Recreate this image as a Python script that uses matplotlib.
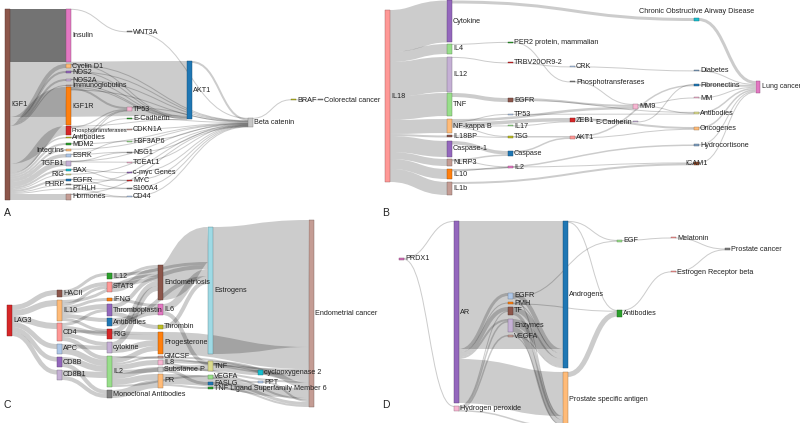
import matplotlib
matplotlib.use("Agg")
import matplotlib.pyplot as plt
from matplotlib.path import Path
from matplotlib.patches import PathPatch, Rectangle
import matplotlib.colors as mcolors

DPI = 100
NODE_W = 4.5
FONT = ["Liberation Sans", "DejaVu Sans"]
FS = 5.2

# ---------- Panel A ----------
A_nodes = ["IGF1", "Insulin", "Cyclin D1", "NOS2", "NOS2A", "Immunoglobulins", "IGF1R",
           "Phosphotransferases", "Antibodies", "MDM2", "Integrins", "ESRK", "TGFB1", "BAX",
           "RIG", "EGFR", "PHRP", "PTHLH", "Hormones",
           "WNT3A", "TP53", "E-Cadherin", "CDKN1A", "H3F3AP6", "NSG1", "TCEAL1", "c-myc Genes",
           "MYC", "S100A4", "CD44", "AKT1", "Beta catenin", "BRAF", "Colorectal cancer"]
A_colors = ["#8c564b", "#e377c2", "#ffbb78", "#9467bd", "#c5b0d5", "#c49c94", "#ff7f0e",
            "#d62728", "#bcbd22", "#2ca02c", "#ffbb78", "#aec7e8", "#c5b0d5", "#17becf",
            "#dbdb8d", "#1f77b4", "#7f7f7f", "#c7c7c7", "#c49c94",
            "#7f7f7f", "#f7b6d2", "#2ca02c", "#c49c94", "#98df8a", "#7f7f7f", "#f7b6d2", "#9467bd",
            "#d62728", "#7f7f7f", "#aec7e8", "#1f77b4", "#c7c7c7", "#bcbd22", "#7f7f7f"]
A_src = ["IGF1"] * 19 + [
    "Insulin", "Cyclin D1", "Cyclin D1", "NOS2", "NOS2", "NOS2A", "NOS2A", "Immunoglobulins",
    "IGF1R", "IGF1R", "IGF1R", "Phosphotransferases", "Phosphotransferases", "Phosphotransferases",
    "Antibodies", "Antibodies", "MDM2", "MDM2", "Integrins", "ESRK", "ESRK", "TGFB1", "TGFB1", "TGFB1",
    "BAX", "BAX", "RIG", "EGFR", "EGFR", "PHRP", "PTHLH", "PTHLH", "Hormones", "Hormones",
    "WNT3A", "TP53", "TP53", "E-Cadherin", "CDKN1A", "H3F3AP6", "NSG1", "TCEAL1", "c-myc Genes",
    "MYC", "S100A4", "CD44", "AKT1", "Beta catenin", "BRAF"]
A_tgt = ["Insulin", "AKT1", "Cyclin D1", "NOS2", "NOS2A", "Immunoglobulins", "IGF1R",
         "Phosphotransferases", "Antibodies", "MDM2", "Integrins", "ESRK", "TGFB1", "BAX",
         "RIG", "EGFR", "PHRP", "PTHLH", "Hormones"] + [
    "WNT3A", "AKT1", "Beta catenin", "AKT1", "Beta catenin", "AKT1", "Beta catenin", "AKT1",
    "TP53", "AKT1", "Beta catenin", "TP53", "CDKN1A", "AKT1",
    "TP53", "E-Cadherin", "TP53", "Beta catenin", "Beta catenin", "H3F3AP6", "NSG1", "TCEAL1", "NSG1", "Beta catenin",
    "c-myc Genes", "MYC", "Beta catenin", "MYC", "S100A4", "Beta catenin", "S100A4", "CD44", "CD44", "Beta catenin",
    "Beta catenin", "Beta catenin", "AKT1", "Beta catenin", "Beta catenin", "Beta catenin", "Beta catenin",
    "Beta catenin", "Beta catenin", "Beta catenin", "Beta catenin", "Beta catenin", "Beta catenin", "BRAF",
    "Colorectal cancer"]
A_val = [53, 55, 4, 2, 2, 1, 38, 9, 1.5, 2, 2, 3.5, 5, 2, 1, 2, 1, 1, 6] + [
    0.6, 0.6, 0.3, 0.4, 0.3, 0.4, 0.3, 0.4,
    2, 0.8, 0.3, 1.2, 0.4, 0.4,
    0.5, 0.4, 0.8, 0.3, 0.3, 0.4, 0.4, 0.4, 0.4, 0.3,
    0.4, 0.4, 0.3, 0.4, 0.4, 0.3, 0.4, 0.4, 0.4, 0.3,
    0.6, 0.8, 0.5, 0.3, 0.3, 0.3, 0.3,
    0.3, 0.3, 0.3, 0.3, 0.3, 2, 0.6,
    0.6]

# ---------- Panel B ----------
B_nodes = ["IL18", "Cytokine", "IL4", "IL12", "TNF", "NF-kappa B", "IL18BP", "Caspase-1", "NLRP3",
           "IL10", "IL1b", "PER2 protein, mammalian", "TRBV20OR9-2", "EGFR", "TP53", "IL17", "TSG",
           "Caspase", "IL2", "CRK", "Phosphotransferases", "ZEB1", "AKT1", "MM9", "E-Cadherin",
           "Chronic Obstructive Airway Disease", "Diabetes", "Fibronectins", "MM", "Antibodies",
           "Oncogenes", "Hydrocortisone", "ICAM1", "Lung cancer"]
B_colors = ["#ff9896", "#9467bd", "#98df8a", "#c5b0d5", "#98df8a", "#ffbb78", "#8c564b", "#9467bd",
            "#c49c94", "#ff7f0e", "#c49c94", "#2ca02c", "#d62728", "#8c564b", "#aec7e8", "#98df8a",
            "#bcbd22", "#1f77b4", "#e377c2", "#aec7e8", "#7f7f7f", "#d62728", "#ff9896", "#f7b6d2",
            "#c5b0d5", "#17becf", "#7f9fbf", "#1f77b4", "#f7b6d2", "#dbdb8d", "#ffbb78", "#7f9fbf",
            "#a0522d", "#e377c2"]
B_src = ["IL18"] * 10 + [
    "Cytokine", "IL4", "IL12", "TNF", "NF-kappa B", "NF-kappa B", "NF-kappa B", "NF-kappa B",
    "NF-kappa B", "IL18BP", "Caspase-1", "NLRP3", "NLRP3", "IL10", "IL10", "IL1b",
    "PER2 protein, mammalian", "TRBV20OR9-2", "EGFR", "EGFR", "TP53", "IL17", "TSG", "Caspase", "IL2",
    "CRK", "Phosphotransferases", "ZEB1", "ZEB1", "AKT1", "AKT1", "MM9", "MM9", "E-Cadherin",
    "Chronic Obstructive Airway Disease", "Diabetes", "Fibronectins", "MM", "Antibodies",
    "Oncogenes", "Hydrocortisone", "ICAM1"]
B_tgt = ["Cytokine", "IL4", "IL12", "TNF", "NF-kappa B", "IL18BP", "Caspase-1", "NLRP3", "IL10", "IL1b"] + [
    "Chronic Obstructive Airway Disease", "PER2 protein, mammalian", "TRBV20OR9-2", "EGFR", "TP53",
    "IL17", "TSG", "MM9", "ZEB1", "TSG", "Caspase", "Caspase", "IL2", "IL2", "Hydrocortisone", "ICAM1",
    "Phosphotransferases", "CRK", "MM9", "Antibodies", "Antibodies", "ZEB1", "AKT1", "AKT1", "ICAM1",
    "Diabetes", "MM9", "E-Cadherin", "Oncogenes", "Fibronectins", "Oncogenes", "MM", "Antibodies",
    "Fibronectins"] + ["Lung cancer"] * 8
B_val = [42, 10, 35, 23, 14, 2, 16, 7, 10, 13] + [
    3, 0.8, 0.8, 4, 0.8, 0.8, 1, 2.5, 3.5, 0.8, 3.5, 1.5, 0.6, 0.8, 1.5, 2,
    0.8, 0.8, 2, 0.8, 0.6, 0.8, 1.5, 1.5, 0.8,
    0.8, 0.8, 0.8, 2, 1.5, 0.6, 1, 1, 0.8,
    3, 0.8, 2, 1, 1.5, 1.5, 0.8, 1]

# ---------- Panel C ----------
C_nodes = ["LAG3", "HACII", "IL10", "CD4", "APC", "CD8B", "CD8B1",
           "IL12", "STAT3", "IFNG", "Thromboplastin", "Antibodies", "RIG", "cytokine", "IL2",
           "Monoclonal Antibodies", "Endometriosis", "IL6", "Thrombin", "Progesterone", "GMCSF",
           "IL8", "Substance P", "PR", "Estrogens", "TNF", "VEGFA", "FASLG",
           "TNF Ligand Superfamily Member 6", "cyclooxygenase 2", "PPT", "Endometrial cancer"]
C_colors = ["#d62728", "#8c564b", "#ffbb78", "#ff9896", "#aec7e8", "#9467bd", "#c5b0d5",
            "#2ca02c", "#ff9896", "#ff7f0e", "#9467bd", "#1f77b4", "#d62728", "#c5b0d5", "#98df8a",
            "#7f7f7f", "#8c564b", "#e377c2", "#bcbd22", "#ff7f0e", "#c49c94",
            "#f7b6d2", "#c7c7c7", "#ffbb78", "#9edae5", "#dbdb8d", "#98df8a", "#1f77b4",
            "#2ca02c", "#17becf", "#aec7e8", "#c49c94"]
C_src = ["LAG3"] * 6 + [
    "HACII", "HACII", "IL10", "IL10", "IL10", "IL10", "IL10", "IL10",
    "CD4", "CD4", "CD4", "CD4", "CD4", "APC", "APC", "CD8B", "CD8B", "CD8B1", "CD8B1",
    "IL12", "IL12", "STAT3", "STAT3", "IFNG", "Thromboplastin", "Thromboplastin", "Thromboplastin",
    "Antibodies", "Antibodies", "RIG", "RIG", "cytokine", "cytokine",
    "IL2", "IL2", "IL2", "IL2", "IL2", "IL2", "IL2", "IL2", "Monoclonal Antibodies",
    "Endometriosis", "IL6", "IL6", "Thrombin", "Progesterone", "GMCSF", "IL8", "IL8",
    "Substance P", "Substance P", "PR", "PR", "Estrogens", "TNF", "TNF", "VEGFA", "VEGFA",
    "FASLG", "TNF Ligand Superfamily Member 6", "cyclooxygenase 2", "PPT"]
C_tgt = ["HACII", "IL10", "CD4", "APC", "CD8B", "CD8B1"] + [
    "IL12", "STAT3", "STAT3", "IFNG", "Thromboplastin", "Antibodies", "RIG", "Endometriosis",
    "Thromboplastin", "RIG", "cytokine", "IL2", "Progesterone", "cytokine", "IL2", "IL2",
    "Monoclonal Antibodies", "IL2", "Monoclonal Antibodies",
    "Endometriosis", "Estrogens", "Endometriosis", "Estrogens", "IL6", "Endometriosis", "Thrombin", "IL6",
    "IL6", "Estrogens", "Endometriosis", "Progesterone", "Endometriosis", "Progesterone",
    "Progesterone", "GMCSF", "IL8", "Substance P", "TNF", "PR", "VEGFA", "Endometrial cancer", "PR",
    "Estrogens", "Estrogens", "TNF", "Estrogens", "Endometrial cancer", "Endometrial cancer", "TNF",
    "Endometrial cancer", "FASLG", "Endometrial cancer", "Endometrial cancer",
    "TNF Ligand Superfamily Member 6", "Endometrial cancer", "cyclooxygenase 2", "Endometrial cancer",
    "PPT", "Endometrial cancer", "Endometrial cancer", "Endometrial cancer", "Endometrial cancer",
    "Endometrial cancer"]
C_val = [5, 6, 6, 5, 4.5, 4.5] + [
    3, 4, 3, 3, 5, 4, 3, 3,
    3, 4, 4, 4, 3, 4, 6, 6, 4, 6, 4,
    3, 3, 6, 4, 3, 4, 4, 4,
    4, 4, 5, 5, 5, 6,
    5, 2, 5, 5, 4, 6, 2, 2, 8,
    35, 7, 4, 4, 22, 2, 2, 3,
    3, 2, 10, 2, 127, 5, 5, 2, 2,
    3, 2, 5, 2]

# ---------- Panel D ----------
D_nodes = ["PRDX1", "AR", "Hydrogen peroxide", "EGFR", "PMH", "TF", "Enzymes", "VEGFA",
           "Androgens", "Prostate specific antigen", "EGF", "Antibodies", "Melatonin",
           "Estrogen Receptor beta", "Prostate cancer"]
D_colors = ["#d36fb8", "#9467bd", "#f7b6d2", "#aec7e8", "#ff7f0e", "#8c564b", "#c5b0d5", "#c49c94",
            "#1f77b4", "#ffbb78", "#98df8a", "#2ca02c", "#ff9896", "#ff9896", "#7f7f7f"]
D_src = ["PRDX1", "PRDX1", "AR", "AR", "AR", "AR", "AR", "AR",
         "Hydrogen peroxide", "Hydrogen peroxide", "Hydrogen peroxide", "Hydrogen peroxide",
         "EGFR", "EGFR", "EGFR", "PMH", "PMH", "TF", "TF", "Enzymes", "Enzymes", "VEGFA", "VEGFA",
         "Androgens", "Androgens", "Prostate specific antigen", "EGF", "Antibodies", "Melatonin",
         "Estrogen Receptor beta"]
D_tgt = ["AR", "Hydrogen peroxide", "Androgens", "EGFR", "PMH", "TF", "Enzymes", "Prostate specific antigen",
         "TF", "Enzymes", "VEGFA", "Prostate specific antigen",
         "EGF", "Androgens", "Prostate specific antigen", "Androgens", "Antibodies", "Androgens",
         "Prostate specific antigen", "Androgens", "Prostate specific antigen", "Androgens",
         "Prostate specific antigen", "EGF", "Antibodies", "Antibodies", "Melatonin",
         "Estrogen Receptor beta", "Prostate cancer", "Prostate cancer"]
D_val = [0.8, 0.8, 128, 3, 1, 4, 2, 44,
         1, 1.5, 1.5, 1.5,
         0.8, 4, 1, 1, 0.8, 5, 3, 8, 5, 1, 1,
         0.8, 0.8, 5, 1, 0.8, 1, 0.8]

# ---------- layout (pixel positions of node columns / tops) ----------
A_layout = {
    "x": [5, 66, 66, 66, 66, 66, 66, 66, 66, 66, 66, 66, 66, 66, 66, 66, 66, 66, 66,
          127, 127, 127, 127, 127, 127, 127, 127, 127, 127, 127, 187, 248, 291, 318],
    "y": [9, 9, 64, 71, 79, 85, 87, 126, 137, 143, 149, 154, 161, 169, 174, 179, 184.5, 188.5, 194,
          31.5, 107, 118.5, 129, 141, 152, 162, 172.5, 180, 188, 196.5, 61, 118, 99.5, 99.5],
    "side": {"Integrins": "l", "TGFB1": "l", "RIG": "l", "PHRP": "l"},
    "small": {"Phosphotransferases": 4.2},
    "dark": {("IGF1", "Insulin"): 0.55},
}
B_layout = {
    "x": [385] + [447] * 10 + [508] * 8 + [570] * 4 + [633] * 2 + [694] * 8 + [755.5],
    "y": [10, 0.5, 44, 57, 93, 119, 135.5, 141, 159, 169, 182,
          42, 62.5, 98, 114, 125.5, 136, 151, 166.5,
          66.5, 81.5, 118, 136, 104, 121.5,
          18, 70.5, 84, 97.5, 112, 127, 144.5, 162.5, 81],
    "side": {"E-Cadherin": "l", "Chronic Obstructive Airway Disease": "top", "ICAM1": "c"},
    "small": {"Lung cancer": 5.0},
    "dark": {},
}
C_layout = {
    "x": [7] + [57] * 6 + [107] * 9 + [158] * 8 + [208] * 5 + [258] * 2 + [309],
    "y": [305, 290, 300, 323, 344, 357, 370,
          273, 282, 298, 304, 318, 329, 342, 356, 390,
          265, 304, 325, 332, 356, 360, 367, 374,
          227, 361, 375, 382, 387, 370, 381, 220],
    "side": {},
    "small": {},
    "dark": {},
}
D_layout = {
    "x": [399, 454, 454, 508, 508, 508, 508, 508, 563, 563, 617, 617, 671, 671, 725],
    "y": [258, 221, 406, 293, 302.5, 307, 319, 335, 221, 372, 240, 310, 237.5, 271.5, 248.5],
    "side": {},
    "small": {},
    "dark": {},
}


def draw_sankey(ax, names, colors, src, tgt, val, layout):
    xs, ys = layout["x"], layout["y"]
    idx = {nm: i for i, nm in enumerate(names)}
    s = [idx[a] for a in src]
    t = [idx[b] for b in tgt]
    n, L = len(names), len(val)
    vin = [0.0] * n
    vout = [0.0] * n
    for a, b, v in zip(s, t, val):
        vout[a] += v
        vin[b] += v
    h = [max(vin[i], vout[i]) for i in range(n)]

    # stack links on each node, ordered by the position of the other end
    sy = [0.0] * L
    ty = [0.0] * L
    for i in range(n):
        off = 0
        for k in sorted([k for k in range(L) if s[k] == i], key=lambda k: ys[t[k]]):
            sy[k] = ys[i] + off
            off += val[k]
        off = 0
        for k in sorted([k for k in range(L) if t[k] == i], key=lambda k: ys[s[k]]):
            ty[k] = ys[i] + off
            off += val[k]

    for k in range(L):
        x0 = xs[s[k]] + NODE_W
        x1 = xs[t[k]]
        y0 = sy[k] + val[k] / 2
        y1 = ty[k] + val[k] / 2
        xm = (x0 + x1) / 2
        p = Path([(x0, y0), (xm, y0), (xm, y1), (x1, y1)],
                 [Path.MOVETO, Path.CURVE4, Path.CURVE4, Path.CURVE4])
        a = layout["dark"].get((src[k], tgt[k]), 0.2)
        w = max(val[k], 1.0)
        ax.add_patch(PathPatch(p, fill=False, edgecolor="black", alpha=a,
                               lw=w * 72 / DPI, capstyle="butt", zorder=1))

    for i in range(n):
        c = colors[i]
        edge = tuple(v * 0.6 for v in mcolors.to_rgb(c))
        hh = max(h[i], 1.0)
        ax.add_patch(Rectangle((xs[i], ys[i]), NODE_W, hh, facecolor=c, edgecolor=edge,
                               lw=0.3, zorder=2))
        side = layout["side"].get(names[i], "r")
        fs = layout["small"].get(names[i], FS)
        yc = ys[i] + hh / 2
        if side == "r":
            ax.text(xs[i] + NODE_W + 1.5, yc, names[i], ha="left", va="center", fontsize=fs,
                    family=FONT, color="#222222", zorder=3)
        elif side == "l":
            ax.text(xs[i] - 1.5, yc, names[i], ha="right", va="center", fontsize=fs,
                    family=FONT, color="#222222", zorder=3)
        elif side == "top":
            ax.text(xs[i] + NODE_W / 2, ys[i] - 3, names[i], ha="center", va="bottom", fontsize=fs,
                    family=FONT, color="#222222", zorder=3)
        else:
            ax.text(xs[i] + NODE_W / 2, yc, names[i], ha="center", va="center", fontsize=fs,
                    family=FONT, color="#222222", zorder=3)


fig = plt.figure(figsize=(8, 4.23), dpi=DPI)
ax = fig.add_axes([0, 0, 1, 1])
ax.set_xlim(0, 800)
ax.set_ylim(423, 0)
ax.axis("off")

draw_sankey(ax, A_nodes, A_colors, A_src, A_tgt, A_val, A_layout)
draw_sankey(ax, B_nodes, B_colors, B_src, B_tgt, B_val, B_layout)
draw_sankey(ax, C_nodes, C_colors, C_src, C_tgt, C_val, C_layout)
draw_sankey(ax, D_nodes, D_colors, D_src, D_tgt, D_val, D_layout)

for lab, x, y in [("A", 4, 213), ("B", 382, 213), ("C", 4, 405), ("D", 382, 405)]:
    ax.text(x, y, lab, ha="left", va="center", fontsize=7.5, family=FONT, color="#222222")

fig.savefig("out.png", dpi=DPI)
